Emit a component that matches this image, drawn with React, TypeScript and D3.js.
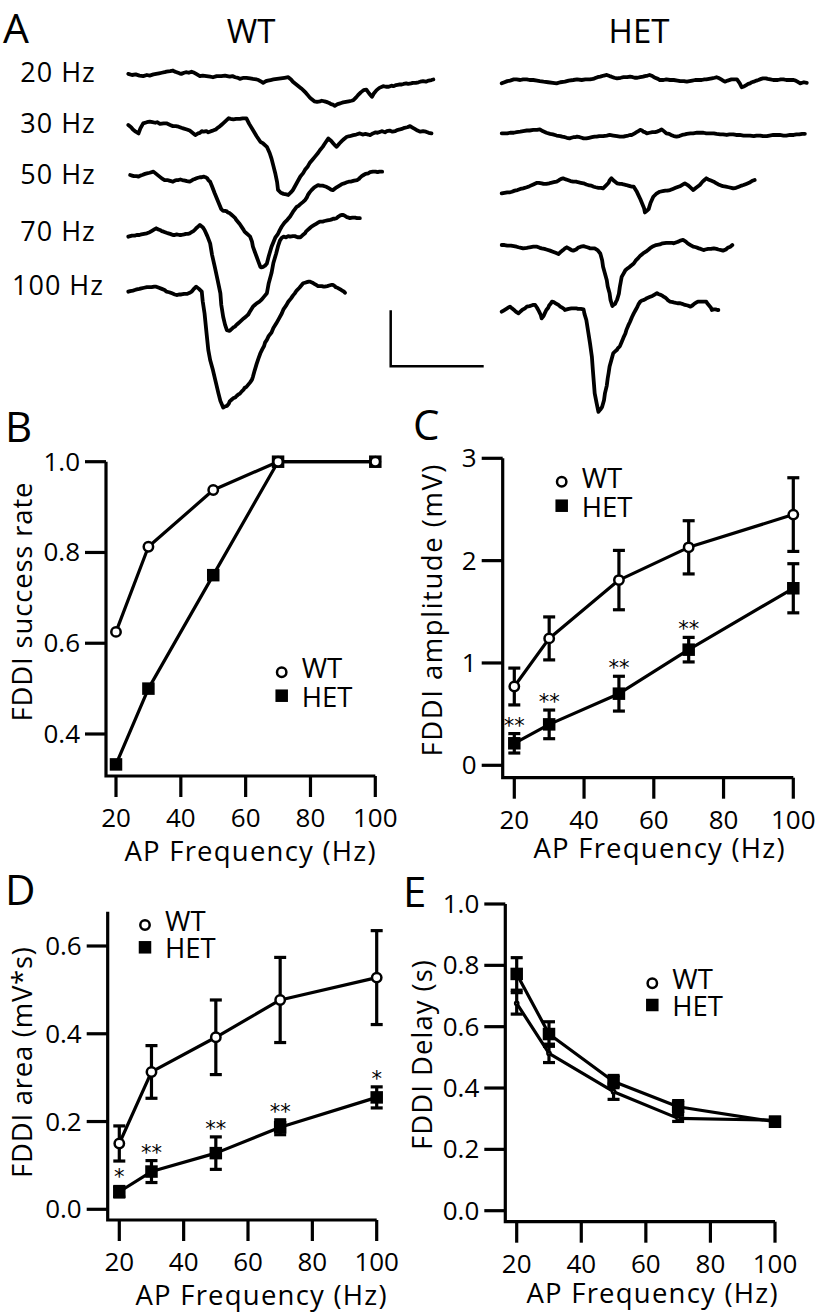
import React from "react";
import * as d3 from "d3";

// ---------------- DATA ----------------
const FREQ = [20, 30, 50, 70, 100];
const X_TICKS = [20, 40, 60, 80, 100];

// Panel B: success rate
const B_WT = [0.625, 0.8125, 0.9375, 1.0, 1.0];
const B_HET = [0.333, 0.5, 0.75, 1.0, 1.0];
const B_Y_TICKS = [0.4, 0.6, 0.8, 1.0];

// Panel C: amplitude (mV)
const C_WT = [0.77, 1.24, 1.81, 2.13, 2.45];
const C_WT_ERR = [0.18, 0.21, 0.29, 0.26, 0.36];
const C_HET = [0.215, 0.4, 0.7, 1.13, 1.73];
const C_HET_ERR = [0.095, 0.14, 0.17, 0.12, 0.24];
const C_SIG = ["**", "**", "**", "**", ""];
const C_Y_TICKS = [0, 1, 2, 3];

// Panel D: area (mV*s)
const D_WT = [0.15, 0.313, 0.392, 0.477, 0.528];
const D_WT_ERR = [0.04, 0.06, 0.085, 0.097, 0.107];
const D_HET = [0.04, 0.086, 0.128, 0.187, 0.255];
const D_HET_ERR = [0.012, 0.025, 0.037, 0.017, 0.024];
const D_SIG = ["*", "**", "**", "**", "*"];
const D_Y_TICKS = [0, 0.2, 0.4, 0.6];

// Panel E: delay (s)
const E_WT = [0.676, 0.513, 0.388, 0.301, 0.295];
const E_WT_ERR = [0.035, 0.03, 0.025, 0.01, 0.01];
const E_HET = [0.772, 0.576, 0.421, 0.339, 0.29];
const E_HET_ERR = [0.053, 0.04, 0.02, 0.02, 0.01];
const E_Y_TICKS = [0, 0.2, 0.4, 0.6, 0.8, 1.0];

// Panel A: example traces, [time (ms), voltage (mV)]
const TRACE_LABELS = ["20 Hz", "30 Hz", "50 Hz", "70 Hz", "100 Hz"];

const WT_20HZ: [number, number][] = [[0,0.02],[4,0.0],[8,0.01],[12,-0.01],[16,-0.02],[20,0.0],[23,-0.01],[27,0.01],[30,0.02],[33,0.03],[36,0.04],[39,0.05],[41,0.06],[45,0.07],[48,0.08],[50,0.06],[52,0.05],[55,0.03],[57,0.02],[60,0.04],[62,0.05],[65,0.04],[68,0.06],[71,0.04],[73,0.02],[77,-0.02],[80,-0.01],[84,-0.02],[88,-0.03],[91,-0.04],[95,-0.02],[100,-0.02],[104,-0.01],[109,-0.03],[112,-0.02],[115,-0.04],[118,-0.05],[120,-0.07],[124,-0.05],[127,-0.05],[131,-0.06],[134,-0.07],[138,-0.08],[140,-0.09],[143,-0.12],[145,-0.14],[148,-0.11],[150,-0.1],[153,-0.09],[156,-0.08],[160,-0.07],[164,-0.06],[168,-0.05],[172,-0.04],[175,-0.08],[177,-0.12],[180,-0.16],[183,-0.2],[186,-0.24],[188,-0.27],[191,-0.32],[193,-0.36],[195,-0.4],[197,-0.43],[200,-0.47],[203,-0.48],[206,-0.47],[208,-0.46],[211,-0.47],[213,-0.48],[216,-0.5],[218,-0.52],[220,-0.53],[222,-0.55],[225,-0.52],[227,-0.51],[229,-0.5],[231,-0.49],[234,-0.48],[237,-0.47],[240,-0.46],[242,-0.45],[245,-0.4],[247,-0.36],[250,-0.31],[253,-0.27],[256,-0.26],[259,-0.33],[262,-0.39],[264,-0.33],[267,-0.27],[270,-0.23],[274,-0.2],[277,-0.21],[280,-0.21],[283,-0.19],[285,-0.2],[288,-0.18],[291,-0.17],[294,-0.17],[296,-0.16],[299,-0.15],[301,-0.16],[304,-0.15],[306,-0.14],[309,-0.14],[312,-0.13],[314,-0.12],[317,-0.11],[320,-0.12],[323,-0.1],[326,-0.09],[328,-0.08]];

const WT_30HZ: [number, number][] = [[0,0],[3,-0.04],[5,-0.08],[8,-0.12],[11,-0.15],[13,-0.06],[16,0.03],[20,0.05],[23,0.06],[26,0.05],[29,0.04],[31,0.05],[34,0.02],[38,0.03],[41,0.03],[45,0.0],[48,-0.02],[51,-0.02],[54,-0.03],[57,-0.05],[59,-0.06],[63,-0.08],[66,-0.1],[69,-0.14],[72,-0.18],[75,-0.15],[77,-0.14],[79,-0.11],[81,-0.12],[84,-0.11],[86,-0.13],[89,-0.11],[91,-0.1],[94,-0.08],[96,-0.05],[98,-0.03],[100,0],[102,0.03],[104,0.06],[106,0.09],[108,0.12],[110,0.11],[113,0.1],[116,0.11],[120,0.11],[123,0.12],[127,0.12],[130,0.02],[134,-0.09],[138,-0.2],[142,-0.3],[145,-0.33],[149,-0.39],[152,-0.5],[154,-0.6],[156,-0.73],[158,-0.86],[160,-1.02],[161,-1.16],[164,-1.21],[167,-1.23],[170,-1.24],[172,-1.25],[175,-1.2],[177,-1.16],[181,-1.04],[185,-0.92],[188,-0.86],[190,-0.8],[193,-0.74],[195,-0.68],[198,-0.62],[201,-0.56],[204,-0.5],[206,-0.45],[209,-0.39],[211,-0.34],[213,-0.29],[215,-0.24],[218,-0.28],[220,-0.32],[222,-0.36],[224,-0.39],[227,-0.33],[230,-0.28],[232,-0.25],[235,-0.21],[238,-0.2],[242,-0.18],[245,-0.17],[249,-0.15],[252,-0.17],[255,-0.16],[258,-0.17],[260,-0.18],[263,-0.15],[266,-0.13],[268,-0.14],[271,-0.12],[273,-0.11],[276,-0.13],[278,-0.11],[281,-0.1],[284,-0.12],[287,-0.11],[289,-0.09],[292,-0.08],[294,-0.07],[297,-0.05],[300,-0.04],[303,-0.02],[306,-0.05],[308,-0.07],[311,-0.1],[314,-0.12],[317,-0.11],[320,-0.12],[323,-0.14],[326,-0.15]];

const WT_50HZ: [number, number][] = [[2,0],[4,-0.01],[6,-0.02],[9,-0.02],[11,-0.03],[13,-0.01],[15,0.0],[18,0.02],[20,0.03],[23,0.04],[27,0.06],[30,0.02],[33,-0.02],[36,-0.06],[39,-0.09],[42,-0.09],[44,-0.1],[46,-0.11],[48,-0.12],[50,-0.1],[52,-0.09],[54,-0.09],[56,-0.08],[58,-0.09],[61,-0.1],[63,-0.11],[66,-0.12],[68,-0.1],[70,-0.08],[72,-0.07],[73,-0.06],[75,-0.05],[77,-0.04],[79,-0.04],[81,-0.03],[83,-0.04],[85,-0.06],[86,-0.09],[88,-0.12],[90,-0.2],[93,-0.33],[96,-0.45],[99,-0.57],[100,-0.61],[102,-0.64],[104,-0.64],[106,-0.65],[107,-0.67],[109,-0.68],[111,-0.71],[113,-0.74],[115,-0.77],[116,-0.8],[118,-0.84],[120,-0.88],[122,-0.93],[124,-0.98],[125,-1.01],[127,-1.04],[129,-1.07],[131,-1.1],[133,-1.19],[134,-1.28],[136,-1.37],[138,-1.46],[140,-1.55],[142,-1.64],[143,-1.65],[145,-1.64],[147,-1.62],[149,-1.58],[151,-1.45],[154,-1.28],[156,-1.2],[158,-1.12],[161,-1.05],[163,-0.98],[165,-0.92],[168,-0.85],[171,-0.8],[174,-0.74],[177,-0.66],[181,-0.57],[183,-0.55],[185,-0.52],[188,-0.48],[190,-0.45],[192,-0.4],[193,-0.36],[195,-0.31],[197,-0.27],[200,-0.22],[204,-0.18],[206,-0.19],[209,-0.19],[211,-0.2],[213,-0.21],[216,-0.24],[218,-0.26],[220,-0.27],[224,-0.22],[228,-0.18],[230,-0.16],[232,-0.15],[235,-0.13],[237,-0.12],[239,-0.12],[241,-0.11],[243,-0.1],[246,-0.09],[248,-0.07],[249,-0.05],[251,-0.02],[253,0],[255,0.02],[258,0.03],[260,0.05],[263,0.06],[266,0.06],[268,0.05],[270,0.06],[273,0.06]];

const WT_70HZ: [number, number][] = [[0,-0.03],[2,-0.02],[4,-0.01],[7,-0.01],[9,0],[12,0.0],[14,0.01],[17,0.02],[20,0.03],[23,0.05],[25,0.07],[28,0.1],[30,0.12],[32,0.1],[34,0.09],[36,0.07],[38,0.06],[41,0.04],[43,0.03],[45,0.02],[48,0],[50,0.0],[52,0.01],[55,0.0],[57,0],[60,0.01],[62,0.02],[64,0.02],[66,0.03],[68,0.05],[70,0.07],[72,0.1],[73,0.12],[75,0.15],[77,0.18],[80,0.14],[82,0.09],[85,-0.02],[88,-0.15],[90,-0.35],[93,-0.57],[96,-0.8],[99,-1.04],[100,-1.25],[102,-1.46],[104,-1.6],[106,-1.7],[108,-1.71],[109,-1.71],[111,-1.68],[113,-1.65],[115,-1.63],[116,-1.61],[118,-1.58],[120,-1.55],[122,-1.52],[124,-1.49],[127,-1.45],[129,-1.42],[131,-1.36],[134,-1.28],[136,-1.25],[138,-1.22],[141,-1.19],[143,-1.16],[146,-1.1],[149,-1.04],[151,-0.86],[154,-0.68],[156,-0.5],[159,-0.33],[161,-0.2],[163,-0.1],[165,-0.05],[167,-0.03],[169,-0.04],[170,-0.04],[172,-0.02],[174,-0.03],[177,-0.02],[179,-0.02],[182,-0.04],[185,-0.04],[187,-0.01],[190,0.03],[191,0.06],[193,0.09],[195,0.12],[197,0.15],[200,0.18],[202,0.2],[204,0.22],[206,0.24],[209,0.24],[211,0.25],[214,0.26],[217,0.27],[219,0.28],[220,0.29],[222,0.29],[224,0.3],[226,0.33],[228,0.35],[230,0.36],[231,0.36],[233,0.34],[235,0.32],[237,0.31],[238,0.3],[241,0.31],[244,0.31],[246,0.3],[249,0.3]];

const WT_100HZ: [number, number][] = [[0,-0.03],[2,-0.02],[5,-0.01],[7,0.0],[9,0.01],[12,0.02],[14,0.03],[17,0.04],[20,0.05],[22,0.05],[25,0.05],[28,0.06],[30,0.06],[33,0.04],[36,0.02],[39,0.0],[41,-0.03],[44,-0.04],[47,-0.06],[50,-0.08],[52,-0.09],[55,-0.08],[57,-0.08],[60,-0.07],[63,-0.07],[66,-0.05],[68,-0.03],[70,0.01],[73,0.06],[76,0.02],[79,-0.03],[80,-0.2],[82,-0.42],[84,-0.75],[86,-1.07],[88,-1.25],[91,-1.43],[94,-1.64],[97,-1.85],[99,-1.98],[102,-2.1],[104,-2.08],[106,-2.07],[108,-2.03],[109,-1.99],[111,-1.96],[113,-1.93],[115,-1.92],[116,-1.9],[118,-1.87],[120,-1.85],[122,-1.81],[124,-1.78],[125,-1.75],[127,-1.73],[129,-1.69],[131,-1.65],[133,-1.6],[134,-1.55],[136,-1.43],[138,-1.32],[140,-1.22],[142,-1.13],[144,-1.06],[146,-1.0],[147,-0.94],[149,-0.89],[151,-0.82],[154,-0.76],[156,-0.68],[159,-0.6],[162,-0.51],[165,-0.42],[167,-0.34],[170,-0.27],[172,-0.21],[175,-0.15],[177,-0.1],[179,-0.06],[181,-0.01],[184,0.04],[186,0.08],[188,0.12],[190,0.13],[192,0.14],[194,0.15],[195,0.15],[198,0.13],[200,0.11],[202,0.09],[204,0.07],[206,0.07],[208,0.07],[210,0.06],[211,0.06],[214,0.07],[216,0.08],[218,0.09],[220,0.09],[222,0.07],[223,0.05],[225,0.04],[226,0.03],[228,0.01],[230,-0.01],[232,-0.03],[233,-0.05]];

const HET_20HZ: [number, number][] = [[0,-0.06],[3,-0.04],[6,-0.02],[9,-0.01],[13,0.01],[16,0.01],[20,0.0],[23,0.01],[27,0.01],[30,0.0],[34,0.0],[38,-0.01],[41,-0.02],[45,-0.03],[50,-0.04],[55,-0.05],[59,-0.06],[63,-0.04],[68,-0.03],[72,-0.01],[77,0],[81,0.01],[86,0.0],[90,0.01],[95,0.01],[98,0.02],[100,0.03],[103,0.05],[106,0.06],[110,0.08],[113,0.09],[116,0.07],[118,0.06],[121,0.04],[124,0.03],[128,0.04],[131,0.05],[135,0.05],[138,0.06],[141,0.05],[143,0.04],[146,0.04],[149,0.05],[152,0.06],[154,0.07],[157,0.08],[159,0.09],[162,0.07],[165,0.04],[168,0.02],[170,0],[174,0.0],[177,0.01],[181,0.0],[185,0],[189,-0.01],[192,-0.02],[196,-0.02],[199,-0.03],[202,-0.02],[205,-0.01],[208,0.0],[210,0],[213,0.0],[215,0.0],[218,0.01],[220,0.01],[223,0.02],[226,0.03],[229,0.04],[231,0.05],[234,0.03],[236,0.01],[238,-0.01],[240,-0.03],[243,-0.01],[247,0.01],[250,0.01],[253,0.01],[256,-0.06],[258,-0.13],[261,-0.11],[263,-0.09],[265,-0.07],[267,-0.06],[269,-0.04],[271,-0.03],[274,-0.01],[276,0.0],[279,0.02],[281,0.03],[284,0.03],[286,0.02],[289,0.01],[292,0],[295,0.0],[297,0.0],[300,0.01],[303,0.01],[306,0.0],[309,0.0],[311,0.0],[314,0],[316,-0.01],[318,-0.03],[321,-0.06],[323,-0.05],[325,-0.04],[328,-0.05]];

const HET_30HZ: [number, number][] = [[0,0],[3,0.0],[6,0.0],[9,0.01],[13,0.01],[16,0.02],[20,0.03],[23,0.04],[27,0.05],[30,0.05],[34,0.06],[38,0.06],[41,0.07],[44,0.04],[48,0.01],[52,-0.01],[55,-0.02],[59,-0.04],[63,-0.05],[65,-0.06],[68,-0.07],[70,-0.08],[73,-0.09],[75,-0.08],[77,-0.07],[79,-0.07],[81,-0.06],[84,-0.07],[86,-0.08],[88,-0.09],[91,-0.09],[94,-0.08],[97,-0.07],[100,-0.06],[102,-0.06],[105,-0.05],[109,-0.05],[113,-0.04],[116,-0.03],[120,-0.04],[124,-0.05],[127,-0.06],[131,-0.06],[133,-0.05],[136,-0.04],[138,-0.03],[140,-0.03],[143,0.0],[145,0.02],[147,0.04],[149,0.06],[151,0.05],[152,0.03],[154,0.02],[156,0],[159,0.01],[162,0.02],[165,0.02],[167,0.03],[170,0.05],[172,0.07],[175,0.03],[177,0],[180,-0.01],[182,-0.03],[185,-0.05],[188,-0.06],[191,-0.05],[194,-0.03],[197,-0.02],[199,-0.01],[203,0.0],[206,0.0],[210,0.01],[213,0.01],[217,0.01],[220,0.0],[224,0.0],[228,0],[231,-0.01],[235,-0.02],[238,-0.02],[242,-0.03],[245,-0.02],[249,-0.02],[252,-0.03],[256,-0.03],[260,-0.04],[263,-0.04],[267,-0.04],[271,-0.05],[274,-0.04],[278,-0.04],[281,-0.05],[285,-0.05],[288,-0.04],[292,-0.03],[295,-0.03],[299,-0.03],[303,-0.04],[306,-0.04],[310,-0.03],[314,-0.03],[317,-0.02],[320,-0.02],[323,-0.01],[326,-0.01]];

const HET_50HZ: [number, number][] = [[0,-0.12],[3,-0.11],[6,-0.1],[9,-0.1],[11,-0.09],[14,-0.07],[17,-0.06],[20,-0.04],[23,-0.03],[27,-0.01],[30,0.01],[34,0.04],[38,0.07],[40,0.07],[43,0.06],[45,0.05],[48,0.05],[51,0.06],[53,0.07],[56,0.08],[59,0.09],[61,0.11],[62,0.12],[64,0.14],[66,0.15],[69,0.13],[71,0.12],[74,0.1],[77,0.09],[80,0.09],[82,0.08],[85,0.07],[88,0.06],[91,0.04],[93,0.03],[96,0.02],[99,0],[101,-0.01],[104,-0.02],[107,-0.02],[109,-0.03],[112,0.02],[115,0.07],[116,0.11],[118,0.15],[121,0.1],[124,0.06],[127,0.05],[129,0.05],[131,0.04],[134,0.03],[136,0.02],[138,0.01],[140,0.0],[142,0],[145,-0.08],[147,-0.15],[149,-0.22],[151,-0.3],[153,-0.38],[154,-0.46],[156,-0.43],[158,-0.4],[160,-0.29],[163,-0.18],[166,-0.13],[170,-0.09],[173,-0.08],[176,-0.07],[178,-0.07],[181,-0.06],[184,-0.04],[187,-0.02],[190,0.0],[192,0.01],[195,0.04],[197,0.06],[200,0.03],[202,0.0],[204,-0.03],[206,-0.06],[209,-0.02],[213,0.03],[216,0.09],[218,0.12],[220,0.15],[222,0.13],[225,0.11],[228,0.09],[230,0.07],[233,0.04],[236,0.02],[238,0.01],[241,0.0],[244,-0.01],[247,-0.02],[249,-0.03],[252,-0.02],[255,0.0],[258,0.02],[260,0.03],[263,0.05],[266,0.07],[269,0.1],[272,0.12]];

const HET_70HZ: [number, number][] = [[0,0.03],[3,0.03],[6,0.02],[10,0.02],[13,0.01],[16,0.0],[18,-0.01],[21,-0.02],[23,-0.03],[27,-0.02],[30,-0.01],[34,0.0],[38,0],[41,-0.02],[43,-0.03],[46,-0.04],[48,-0.05],[52,-0.07],[55,-0.09],[58,-0.11],[61,-0.13],[63,-0.1],[66,-0.06],[68,-0.03],[70,-0.01],[72,-0.03],[74,-0.05],[75,-0.06],[77,-0.07],[80,-0.05],[82,-0.02],[85,0.0],[88,0.01],[90,0.0],[92,-0.01],[94,-0.02],[95,-0.03],[98,-0.03],[100,-0.03],[103,-0.06],[106,-0.12],[108,-0.24],[109,-0.36],[111,-0.48],[113,-0.6],[114,-0.71],[116,-0.83],[117,-0.95],[119,-1.06],[120,-1.04],[122,-1.02],[123,-0.98],[124,-0.95],[126,-0.84],[127,-0.72],[128,-0.63],[129,-0.54],[131,-0.48],[133,-0.42],[135,-0.39],[137,-0.37],[139,-0.34],[142,-0.3],[144,-0.25],[147,-0.2],[149,-0.16],[152,-0.12],[155,-0.09],[158,-0.05],[160,-0.02],[163,0.01],[166,0.03],[170,0.04],[173,0.06],[177,0.07],[179,0.07],[181,0.07],[183,0.07],[185,0.06],[188,0.08],[190,0.09],[192,0.11],[195,0.12],[198,0.09],[200,0.06],[203,0.03],[206,0],[209,-0.01],[212,-0.03],[214,-0.04],[217,-0.06],[219,-0.05],[222,-0.04],[225,-0.04],[228,-0.03],[231,-0.04],[233,-0.05],[236,-0.06],[238,-0.07],[241,-0.05],[243,-0.02],[246,0.0],[248,0.03]];

const HET_100HZ: [number, number][] = [[0,-0.06],[2,-0.04],[5,-0.01],[7,0.01],[9,0.03],[11,0.0],[14,-0.04],[16,-0.07],[18,-0.09],[20,-0.06],[22,-0.03],[25,0.0],[27,0.03],[30,0.04],[32,0.05],[34,0.06],[36,0.06],[38,0.01],[40,-0.05],[42,-0.12],[43,-0.18],[45,-0.14],[46,-0.1],[48,-0.03],[50,0.01],[51,0.05],[53,0.09],[54,0.12],[56,0.11],[58,0.09],[60,0.07],[61,0.06],[63,0.03],[65,0.01],[67,-0.01],[68,-0.03],[70,-0.02],[72,-0.01],[75,0.0],[77,0],[80,0.0],[82,-0.01],[85,-0.01],[88,-0.02],[89,-0.1],[91,-0.21],[93,-0.42],[95,-0.63],[97,-0.87],[98,-1.1],[99,-1.31],[100,-1.52],[102,-1.69],[104,-1.85],[106,-1.81],[108,-1.76],[110,-1.64],[111,-1.52],[113,-1.38],[114,-1.25],[115,-1.15],[116,-1.04],[118,-0.92],[120,-0.8],[122,-0.77],[124,-0.74],[125,-0.71],[127,-0.68],[129,-0.6],[131,-0.52],[133,-0.45],[134,-0.39],[136,-0.31],[138,-0.24],[140,-0.16],[142,-0.09],[144,-0.03],[146,0.03],[147,0.07],[149,0.12],[151,0.14],[153,0.15],[155,0.17],[156,0.18],[159,0.2],[162,0.22],[164,0.24],[167,0.27],[169,0.25],[171,0.24],[173,0.22],[174,0.21],[176,0.19],[178,0.16],[179,0.14],[181,0.12],[184,0.11],[186,0.1],[189,0.09],[192,0.09],[194,0.08],[197,0.06],[200,0.05],[203,0.03],[205,0.05],[207,0.08],[209,0.1],[211,0.12],[213,0.12],[216,0.12],[218,0.12],[220,0.12],[221,0.09],[223,0.05],[225,0.01],[226,-0.03],[228,-0.02],[230,-0.02],[232,-0.03],[233,-0.03]];

const WT_TRACES = [WT_20HZ, WT_30HZ, WT_50HZ, WT_70HZ, WT_100HZ];
const HET_TRACES = [HET_20HZ, HET_30HZ, HET_50HZ, HET_70HZ, HET_100HZ];

// scale bar values
const SCALE_BAR_MS = 100;
const SCALE_BAR_MV = 1;

// ---------------- STYLE / LAYOUT ----------------
const FONT = "'Open Sans', 'Noto Sans', sans-serif";
const FS = 26;
const FS_TITLE = 27.5;
const LW = 3.2;
const TICK = 21;

// trace scales: ms -> px, mV -> px (relative)
const tX = d3.scaleLinear().domain([0, 100]).range([0, 93]);
const tY = d3.scaleLinear().domain([0, 1]).range([0, -56]);

type Series = { vals: number[]; err?: number[]; kind: "circle" | "square"; r?: number };

type PanelCfg = {
  xr: [number, number];
  yd: [number, number];
  yr: [number, number];
  left: number;
  bottom: number;
  yTopVal: number;
  yTicks: number[];
  fmt: (v: number) => string;
  ytitle: string;
  ytLen: number;
  ytx: number;
  yty: number;
  xtx: number;
  xty: number;
  series: Series[]; // drawn in order
  sig?: string[];
  sigOf?: Series;
  legend: { x: number; y1: number; y2: number };
};

function Marker({ kind, cx, cy, r }: { kind: string; cx: number; cy: number; r?: number }) {
  if (kind === "circle") {
    const rr = r ?? 4.7;
    return <circle cx={cx} cy={cy} r={rr} fill="#fff" stroke="#000" strokeWidth={2.5} />;
  }
  const s = 12.5;
  return <rect x={cx - s / 2} y={cy - s / 2} width={s} height={s} fill="#000" />;
}

function Panel({ c }: { c: PanelCfg }) {
  const x = d3.scaleLinear().domain([20, 100]).range(c.xr);
  const y = d3.scaleLinear().domain(c.yd).range(c.yr);
  const line = d3
    .line<number>()
    .x((_, i) => x(FREQ[i]))
    .y((d) => y(d));
  const axisPath = `M${c.left},${y(c.yTopVal)}V${c.bottom}H${x(100)}`;
  return (
    <g>
      {/* axes */}
      <path d={axisPath} fill="none" stroke="#000" strokeWidth={LW} strokeLinejoin="miter" />
      {c.yTicks.map((t) => (
        <g key={"y" + t}>
          <line x1={c.left - TICK} x2={c.left} y1={y(t)} y2={y(t)} stroke="#000" strokeWidth={LW} />
          <text x={c.left - TICK - 5} y={y(t) + 9} textAnchor="end" fontSize={FS}>
            {c.fmt(t)}
          </text>
        </g>
      ))}
      {X_TICKS.map((t) => (
        <g key={"x" + t}>
          <line x1={x(t)} x2={x(t)} y1={c.bottom} y2={c.bottom + TICK} stroke="#000" strokeWidth={LW} />
          <text x={x(t)} y={c.bottom + 51} textAnchor="middle" fontSize={FS}>
            {t}
          </text>
        </g>
      ))}
      <text x={c.xtx} y={c.xty} textAnchor="middle" fontSize={FS_TITLE} textLength={251} lengthAdjust="spacing">
        AP Frequency (Hz)
      </text>
      <text
        transform={`translate(${c.ytx},${c.yty}) rotate(-90)`}
        textAnchor="middle"
        fontSize={FS_TITLE}
        textLength={c.ytLen}
        lengthAdjust="spacing"
      >
        {c.ytitle}
      </text>
      {/* lines */}
      {c.series.map((s, si) => (
        <path key={"l" + si} d={line(s.vals) || ""} fill="none" stroke="#000" strokeWidth={LW} strokeLinejoin="round" />
      ))}
      {/* error bars */}
      {c.series.map((s, si) =>
        s.err
          ? s.vals.map((v, i) => {
              const e = s.err![i];
              const xx = x(FREQ[i]);
              return (
                <g key={"e" + si + "_" + i} stroke="#000" strokeWidth={LW}>
                  <line x1={xx} x2={xx} y1={y(v - e)} y2={y(v + e)} />
                  <line x1={xx - 6} x2={xx + 6} y1={y(v + e)} y2={y(v + e)} />
                  <line x1={xx - 6} x2={xx + 6} y1={y(v - e)} y2={y(v - e)} />
                </g>
              );
            })
          : null
      )}
      {/* markers */}
      {c.series.map((s, si) =>
        s.vals.map((v, i) => <Marker key={"m" + si + "_" + i} kind={s.kind} cx={x(FREQ[i])} cy={y(v)} r={s.r} />)
      )}
      {/* significance */}
      {c.sig && c.sigOf
        ? c.sig.map((s, i) => {
            if (!s) return null;
            const v = c.sigOf!.vals[i];
            const e = c.sigOf!.err ? c.sigOf!.err[i] : 0;
            const top = Math.min(y(v + e), y(v) - 6.5);
            return (
              <text
                key={"s" + i}
                x={x(FREQ[i])}
                y={top - 1}
                textAnchor="middle"
                fontSize={21}
                fontFamily="'DejaVu Sans', sans-serif"
                fill="#000"
              >
                {s}
              </text>
            );
          })
        : null}
      {/* legend */}
      <Marker kind="circle" cx={c.legend.x} cy={c.legend.y1} />
      <text x={c.legend.x + 20} y={c.legend.y1 + 6} fontSize={FS_TITLE}>
        WT
      </text>
      <Marker kind="square" cx={c.legend.x} cy={c.legend.y2} />
      <text x={c.legend.x + 20} y={c.legend.y2 + 11} fontSize={FS_TITLE}>
        HET
      </text>
    </g>
  );
}

const fmt1 = d3.format(".1f");
const fmt0 = d3.format("d");

const PANEL_B: PanelCfg = {
  xr: [116, 375.3],
  yd: [0.4, 1.0],
  yr: [734, 461.7],
  left: 106,
  bottom: 776,
  yTopVal: 1.0,
  yTicks: B_Y_TICKS,
  fmt: fmt1,
  ytitle: "FDDI success rate",
  ytLen: 239,
  ytx: 32,
  yty: 602,
  xtx: 250,
  xty: 861,
  series: [
    { vals: B_HET, kind: "square" },
    { vals: B_WT, kind: "circle" },
  ],
  legend: { x: 281.7, y1: 672.3, y2: 695.7 },
};

const C_HET_S: Series = { vals: C_HET, err: C_HET_ERR, kind: "square" };
const PANEL_C: PanelCfg = {
  xr: [514.3, 793.3],
  yd: [0, 3],
  yr: [765.3, 458.3],
  left: 502.7,
  bottom: 777.7,
  yTopVal: 3,
  yTicks: C_Y_TICKS,
  fmt: fmt0,
  ytitle: "FDDI amplitude (mV)",
  ytLen: 292,
  ytx: 441.5,
  yty: 610.5,
  xtx: 659,
  xty: 858,
  series: [{ vals: C_WT, err: C_WT_ERR, kind: "circle" }, C_HET_S],
  sig: C_SIG,
  sigOf: C_HET_S,
  legend: { x: 561.7, y1: 481.7, y2: 505.7 },
};

const D_HET_S: Series = { vals: D_HET, err: D_HET_ERR, kind: "square" };
const PANEL_D: PanelCfg = {
  xr: [119.3, 376.7],
  yd: [0, 0.6],
  yr: [1209.3, 946],
  left: 107.7,
  bottom: 1220,
  yTopVal: 0.678,
  yTicks: D_Y_TICKS,
  fmt: fmt1,
  ytitle: "FDDI area (mV*s)",
  ytLen: 231,
  ytx: 31.7,
  yty: 1062.5,
  xtx: 261,
  xty: 1305,
  series: [{ vals: D_WT, err: D_WT_ERR, kind: "circle" }, D_HET_S],
  sig: D_SIG,
  sigOf: D_HET_S,
  legend: { x: 145, y1: 925, y2: 947.3 },
};

const PANEL_E: PanelCfg = {
  xr: [516.7, 775],
  yd: [0, 1],
  yr: [1210.7, 904],
  left: 505.3,
  bottom: 1221.7,
  yTopVal: 1.0,
  yTicks: E_Y_TICKS,
  fmt: fmt1,
  ytitle: "FDDI Delay (s)",
  ytLen: 190,
  ytx: 431.7,
  yty: 1055,
  xtx: 652,
  xty: 1303,
  series: [
    { vals: E_WT, err: E_WT_ERR, kind: "circle", r: 1.6 },
    { vals: E_HET, err: E_HET_ERR, kind: "square" },
  ],
  legend: { x: 652.3, y1: 983.3, y2: 1005 },
};

const WT_X0 = 128.3;
const HET_X0 = 501.7;
const WT_ROWS = [75, 125, 175, 235, 290];
const HET_ROWS = [80, 133.3, 186.7, 246.7, 308.3];
const LABEL_BASE = [81.7, 133.3, 184.3, 240.7, 295];

function Trace({ data, x0, y0 }: { data: [number, number][]; x0: number; y0: number }) {
  const line = d3
    .line<[number, number]>()
    .x((d) => tX(d[0]))
    .y((d) => tY(d[1]));
  return (
    <path
      d={line(data) || ""}
      transform={`translate(${x0},${y0})`}
      fill="none"
      stroke="#000"
      strokeWidth={3.8}
      strokeLinejoin="round"
      strokeLinecap="round"
    />
  );
}

export default function App() {
  const sbX = 390.7;
  const sbY = 366.3;
  return (
    <svg
      width={816}
      height={1316}
      style={{ position: "absolute", left: 0, top: 0, background: "#fff" }}
      fontFamily={FONT}
    >
      <rect x={0} y={0} width={816} height={1316} fill="#fff" />
      {/* panel letters */}
      <text x={3} y={43} fontSize={41}>A</text>
      <text x={5} y={441.5} fontSize={42}>B</text>
      <text x={413} y={440} fontSize={42}>C</text>
      <text x={5} y={905} fontSize={42}>D</text>
      <text x={403} y={906.5} fontSize={42}>E</text>

      {/* Panel A */}
      <text x={251} y={43.3} textAnchor="middle" fontSize={33}>WT</text>
      <text x={639} y={43.3} textAnchor="middle" fontSize={33}>HET</text>
      {TRACE_LABELS.map((l, i) => (
        <text key={l} x={58} y={LABEL_BASE[i]} textAnchor="middle" fontSize={27} letterSpacing={1}>
          {l}
        </text>
      ))}
      {WT_TRACES.map((d, i) => (
        <Trace key={"wt" + i} data={d} x0={WT_X0} y0={WT_ROWS[i]} />
      ))}
      {HET_TRACES.map((d, i) => (
        <Trace key={"het" + i} data={d} x0={HET_X0} y0={HET_ROWS[i]} />
      ))}
      <path
        d={`M${sbX},${sbY + tY(SCALE_BAR_MV)}V${sbY}H${sbX + tX(SCALE_BAR_MS)}`}
        fill="none"
        stroke="#000"
        strokeWidth={2.5}
      />

      <Panel c={PANEL_B} />
      <Panel c={PANEL_C} />
      <Panel c={PANEL_D} />
      <Panel c={PANEL_E} />
    </svg>
  );
}
